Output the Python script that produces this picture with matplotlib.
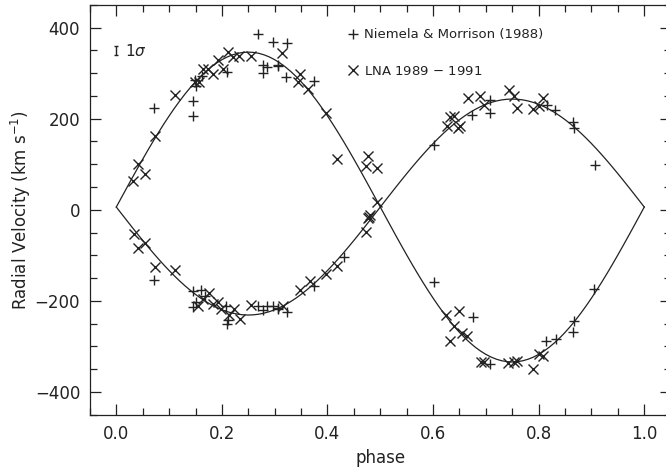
import numpy as np
import matplotlib
matplotlib.use('Agg')
import matplotlib.pyplot as plt
from matplotlib.ticker import MultipleLocator

# orbital solution (circular orbit)
gamma = 6.0
k1 = 340.0
k2 = 237.0

# Niemela & Morrison (1988): phase, primary RV, secondary RV
nm_phase_a = [0.072, 0.145, 0.145, 0.149, 0.150, 0.162, 0.209, 0.269, 0.277, 0.277,
              0.285, 0.297, 0.307, 0.307, 0.323, 0.321, 0.375, 0.602, 0.673, 0.708,
              0.708, 0.816, 0.831, 0.865, 0.866, 0.906]
nm_vel_a = [223, 239, 206, 285, 272, 294, 303, 386, 318, 300,
            314, 369, 316, 318, 367, 291, 283, 143, 208, 240,
            213, 230, 218, 192, 179, 99]
nm_phase_b = [0.072, 0.146, 0.146, 0.151, 0.160, 0.168, 0.208, 0.209, 0.212, 0.269,
              0.278, 0.285, 0.297, 0.307, 0.307, 0.323, 0.374, 0.432, 0.601, 0.675,
              0.708, 0.814, 0.833, 0.866, 0.865, 0.904]
nm_vel_b = [-154, -179, -213, -203, -176, -190, -211, -250, -241, -212,
            -219, -211, -211, -218, -215, -225, -168, -103, -158, -236,
            -338, -289, -284, -245, -269, -174]

# LNA 1989 - 1991
lna_phase_a = [0.032, 0.041, 0.055, 0.074, 0.111, 0.149, 0.157, 0.165, 0.174, 0.183,
               0.192, 0.202, 0.212, 0.221, 0.233, 0.255, 0.314, 0.347, 0.345, 0.364,
               0.398, 0.418, 0.476, 0.472, 0.494, 0.626, 0.632, 0.639, 0.651, 0.648,
               0.666, 0.689, 0.697, 0.744, 0.754, 0.759, 0.790, 0.801, 0.808]
lna_vel_a = [64, 101, 79, 161, 251, 281, 281, 309, 309, 298,
             328, 309, 346, 335, 338, 338, 344, 297, 281, 265,
             213, 111, 117, 96, 91, 183, 203, 205, 184, 179,
             245, 250, 230, 262, 250, 223, 221, 228, 245]
lna_phase_b = [0.033, 0.041, 0.055, 0.074, 0.112, 0.155, 0.165, 0.176, 0.183, 0.193,
               0.198, 0.214, 0.223, 0.235, 0.255, 0.316, 0.347, 0.367, 0.398, 0.418,
               0.478, 0.476, 0.472, 0.494, 0.624, 0.649, 0.640, 0.632, 0.654, 0.665,
               0.690, 0.697, 0.741, 0.753, 0.759, 0.790, 0.801, 0.808, 0.480]
lna_vel_b = [-53, -84, -73, -126, -133, -211, -196, -183, -206, -203,
             -218, -230, -218, -240, -208, -211, -176, -157, -141, -124,
             -15, -18, -48, 16, -230, -222, -254, -289, -271, -278,
             -335, -333, -336, -335, -331, -349, -316, -320, -12]

sigma = 10.0

ink = '#222222'
plt.rcParams['font.family'] = 'DejaVu Sans'
plt.rcParams['xtick.direction'] = 'in'
plt.rcParams['ytick.direction'] = 'in'

fig = plt.figure(figsize=(6.66, 4.73), dpi=100)
ax = fig.add_axes([0.135, 0.123, 0.872, 0.867])

ph = np.linspace(0, 1, 101)
ax.plot(ph, gamma + k1*np.sin(2*np.pi*ph), color=ink, lw=0.9)
ax.plot(ph, gamma - k2*np.sin(2*np.pi*ph), color=ink, lw=0.9)

ax.plot(nm_phase_a + nm_phase_b, nm_vel_a + nm_vel_b, ls='none', marker='+',
        ms=7, mew=1.0, color=ink, label='Niemela & Morrison (1988)')
ax.plot(lna_phase_a + lna_phase_b, lna_vel_a + lna_vel_b, ls='none', marker='x',
        ms=7, mew=1.0, color=ink, label='LNA 1989 $-$ 1991')

# 1 sigma bar
ax.errorbar([0.0], [349], yerr=sigma, color=ink, lw=1.0, capsize=1.5)
ax.text(0.016, 349, '1$\\sigma$', fontsize=11, color=ink, va='center', ha='left')

ax.legend(loc='upper left', bbox_to_anchor=(0.435, 0.955), frameon=False,
          handlelength=0.8, handletextpad=0.4, labelspacing=1.75, fontsize=9.5,
          labelcolor=ink, borderaxespad=0)

ax.set_xlim(-0.05, 1.05)
ax.set_ylim(-450, 450)
ax.xaxis.set_major_locator(MultipleLocator(0.2))
ax.xaxis.set_minor_locator(MultipleLocator(0.05))
ax.yaxis.set_major_locator(MultipleLocator(200))
ax.yaxis.set_minor_locator(MultipleLocator(50))
ax.xaxis.set_major_formatter(matplotlib.ticker.FormatStrFormatter('%.1f'))
ax.tick_params(which='both', top=True, right=True, colors=ink, labelsize=12, width=0.9)
ax.tick_params(which='major', length=8, pad=7)
ax.tick_params(which='minor', length=5)
for s in ax.spines.values():
    s.set_color(ink)
    s.set_linewidth(0.9)

ax.set_xlabel('phase', fontsize=12, color=ink, labelpad=5)
ax.set_ylabel('Radial Velocity (km s$^{-1}$)', fontsize=12, color=ink, labelpad=1)

fig.savefig('out.png', dpi=100)
